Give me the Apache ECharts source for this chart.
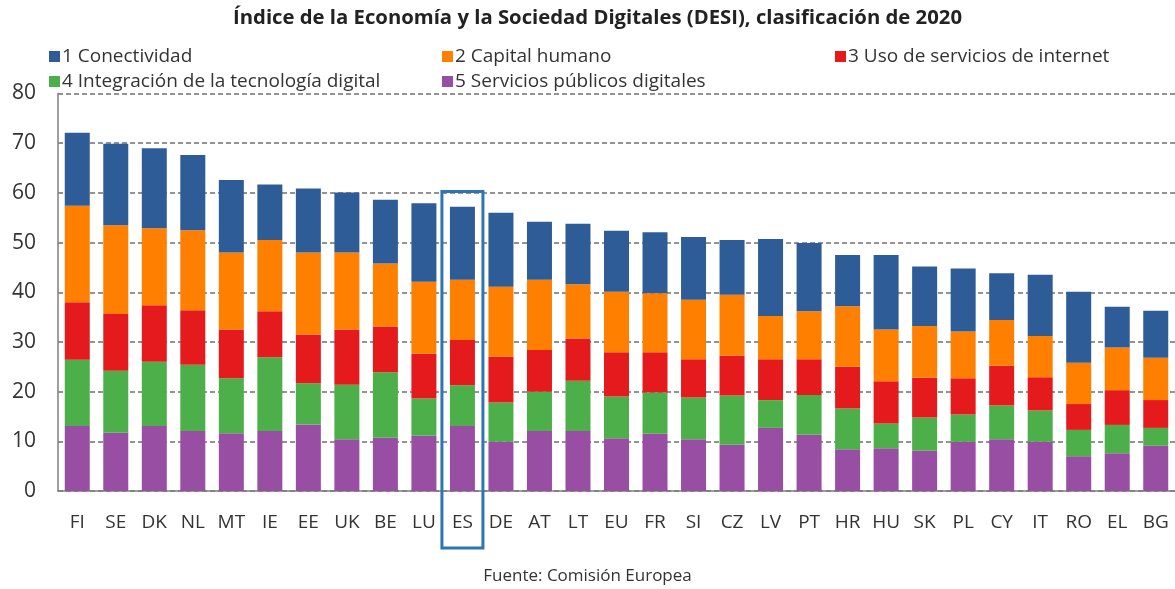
<!DOCTYPE html>
<html lang="es">
<head>
    <meta charset="UTF-8">
    <title>DESI 2020</title>
    <script src="https://cdn.jsdelivr.net/npm/echarts@6/dist/echarts.min.js"></script>
    <style>
        html, body {margin: 0; padding: 0; background: #fff;}
        #chart1 {width: 1175px; height: 589px;}
    </style>
</head>
<body>
<div id="chart1"></div>
<script>
    // paises, ordenados por puntuacion total
    var paises = ['FI','SE','DK','NL','MT','IE','EE','UK','BE','LU','ES','DE','AT','LT','EU','FR','SI','CZ','LV','PT','HR','HU','SK','PL','CY','IT','RO','EL','BG'];

    var conectividad   = [14.7,16.4,16.1,15.1,14.6,11.2,12.9,12.1,12.8,15.8,14.7,14.9,11.7,12.2,12.3,12.3,12.6,11.0,15.5,13.7,10.3,15.0,12.0,12.7, 9.4,12.3,14.3, 8.2, 9.5];
    var capitalHumano  = [19.4,17.9,15.5,16.1,15.5,14.3,16.5,15.5,12.7,14.5,12.1,14.1,14.1,10.9,12.2,11.9,12.0,12.3, 8.7, 9.7,12.2,10.4,10.4, 9.4, 9.2, 8.3, 8.3, 8.6, 8.5];
    var usoInternet    = [11.6,11.4,11.4,11.0, 9.8, 9.3, 9.8,11.1, 9.2, 9.0, 9.1, 9.2, 8.4, 8.5, 8.9, 8.1, 7.7, 8.0, 8.2, 7.2, 8.4, 8.5, 8.0, 7.3, 8.0, 6.7, 5.2, 7.0, 5.6];
    var integracion    = [13.3,12.5,12.9,13.3,11.1,14.8, 8.3,11.0,13.2, 7.5, 8.2, 7.9, 7.9,10.1, 8.4, 8.3, 8.4, 9.9, 5.6, 8.0, 8.2, 5.0, 6.7, 5.5, 6.8, 6.3, 5.3, 5.7, 3.6];
    var serviciosPub   = [13.1,11.7,13.1,12.1,11.6,12.1,13.4,10.4,10.7,11.1,13.1, 9.9,12.1,12.1,10.6,11.5,10.4, 9.3,12.7,11.3, 8.4, 8.6, 8.1, 9.9,10.4, 9.9, 7.0, 7.6, 9.1];

    var nombres = ['1 Conectividad','2 Capital humano','3 Uso de servicios de internet','4 Integración de la tecnología digital','5 Servicios públicos digitales'];
    var colores = ['#2E5C97','#FF7F00','#E41A1C','#4DAF4A','#984EA3'];
    var yTicks = [0, 80, 10];
    var resaltado = 'ES';

    var fuente = 'Open Sans';
    var chart = echarts.init(document.getElementById('chart1'), null, {renderer: 'canvas'});

    // de abajo arriba: 5, 4, 3, 2, 1
    var valores = [conectividad, capitalHumano, usoInternet, integracion, serviciosPub];
    var series = [];
    for (var i = 4; i >= 0; i--) {
        series.push({
            name: nombres[i],
            type: 'bar',
            stack: 'desi',
            barWidth: 25,
            itemStyle: {color: colores[i]},
            data: valores[i]
        });
    }

    // leyenda en dos filas y tres columnas
    var posLeyenda = [[44, 42], [437, 42], [830, 42], [44, 67], [437, 67]];
    var leyendas = [];
    for (var j = 0; j < 5; j++) {
        leyendas.push({
            data: [nombres[j]],
            left: posLeyenda[j][0],
            top: posLeyenda[j][1],
            icon: 'rect',
            itemWidth: 11,
            itemHeight: 11,
            itemGap: 4,
            selectedMode: false,
            textStyle: {fontFamily: fuente, fontSize: 19, color: '#333', padding: [0, 0, 0, -3]}
        });
    }

    var option = {
        animation: false,
        backgroundColor: '#fff',
        title: [{
            text: 'Índice de la Economía y la Sociedad Digitales (DESI), clasificación de 2020',
            left: 228,
            top: 3,
            textStyle: {fontFamily: fuente, fontSize: 20.3, fontWeight: 'bold', color: '#222'}
        }, {
            text: 'Fuente: Comisión Europea',
            left: 'center',
            top: 563,
            textStyle: {fontFamily: fuente, fontSize: 17, fontWeight: 'normal', color: '#333'}
        }],
        legend: leyendas,
        grid: {left: 58, width: 1120, top: 93.5, bottom: 98},
        xAxis: {
            type: 'category',
            data: paises,
            axisLine: {lineStyle: {color: '#7f7f7f', width: 1.5}},
            axisTick: {show: false},
            axisLabel: {fontFamily: fuente, fontSize: 19, color: '#333', margin: 22}
        },
        yAxis: {
            type: 'value',
            min: yTicks[0],
            max: yTicks[1],
            interval: yTicks[2],
            axisLine: {show: true, lineStyle: {color: '#7f7f7f', width: 1.5}},
            axisTick: {show: false},
            splitLine: {lineStyle: {color: '#707070', type: [5, 3], width: 1.5}},
            axisLabel: {fontFamily: fuente, fontSize: 21, color: '#333', margin: 22}
        },
        series: series
    };
    chart.setOption(option);

    // recuadro azul alrededor de ES, situado con las escalas del grafico
    var cx = chart.convertToPixel({xAxisIndex: 0}, resaltado);
    var yTop = chart.convertToPixel({yAxisIndex: 0}, 60.3);
    var yCero = chart.convertToPixel({yAxisIndex: 0}, 0);
    chart.setOption({
        graphic: [{
            type: 'rect',
            shape: {x: cx - 20.5, y: yTop, width: 41, height: yCero - yTop + 57},
            style: {fill: null, stroke: '#2E75B6', lineWidth: 3},
            z: 100
        }]
    });
</script>
</body>
</html>
